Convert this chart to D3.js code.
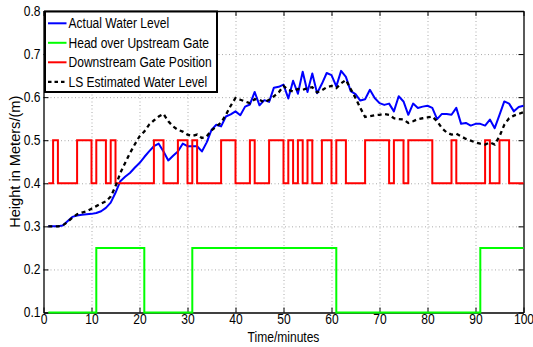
<!DOCTYPE html>
<html><head><meta charset="utf-8">
<script src="https://cdn.jsdelivr.net/npm/d3@7"></script>
<style>
html,body{margin:0;padding:0;background:#fff;}
svg{display:block;}
text{font-family:"Liberation Sans",Arial,Helvetica,sans-serif;fill:#000;}
</style></head>
<body>
<svg id="chart" width="533" height="347"></svg>
<script>
// ---- data ----
const timeMinutes = d3.range(1, 101);
const actualWaterLevel = [
0.300,0.300,0.300,0.302,0.312,0.322,0.325,0.327,0.328,0.329,
0.331,0.335,0.343,0.355,0.378,0.405,0.415,0.424,0.436,0.447,
0.461,0.474,0.486,0.492,0.474,0.453,0.464,0.474,0.492,0.486,
0.486,0.486,0.474,0.495,0.524,0.536,0.532,0.555,0.560,0.567,
0.558,0.578,0.583,0.612,0.581,0.593,0.589,0.622,0.624,0.629,
0.597,0.638,0.608,0.659,0.612,0.655,0.609,0.631,0.656,0.651,
0.625,0.661,0.647,0.614,0.607,0.592,0.595,0.617,0.598,0.586,
0.582,0.585,0.567,0.602,0.590,0.559,0.585,0.575,0.578,0.580,
0.575,0.549,0.561,0.561,0.559,0.575,0.538,0.540,0.534,0.538,
0.538,0.534,0.548,0.528,0.559,0.590,0.585,0.567,0.577,0.580];
const lsEstimatedLevel = [
0.300,0.300,0.300,0.302,0.310,0.320,0.328,0.332,0.335,0.341,
0.347,0.353,0.358,0.369,0.393,0.424,0.447,0.470,0.490,0.509,
0.520,0.536,0.546,0.555,0.561,0.544,0.532,0.524,0.520,0.513,
0.510,0.513,0.505,0.509,0.523,0.532,0.541,0.559,0.580,0.598,
0.594,0.590,0.586,0.595,0.594,0.588,0.594,0.602,0.611,0.626,
0.617,0.613,0.619,0.617,0.621,0.623,0.611,0.616,0.623,0.626,
0.621,0.632,0.640,0.619,0.598,0.575,0.554,0.556,0.558,0.559,
0.561,0.559,0.551,0.549,0.548,0.540,0.544,0.549,0.551,0.553,
0.555,0.544,0.528,0.518,0.513,0.515,0.509,0.503,0.499,0.495,
0.492,0.490,0.495,0.490,0.509,0.536,0.551,0.557,0.561,0.565];
const upstreamTimes  = [1, 11, 21, 31, 61, 91, 100];
const upstreamHead   = [0.1, 0.25, 0.1, 0.25, 0.1, 0.25, 0.25];
const downstreamTimes = [1,2,3,7,10,11,13,14,15,23,25,28,30,31,32,37,40,43,44,47,50,51,52,53,54,55,56,58,60,61,63,67,72,73,75,76,81,85,86,92,93,95,97,100];
const downstreamGate  = [0.4,0.5,0.4,0.5,0.4,0.5,0.4,0.5,0.4,0.5,0.4,0.5,0.4,0.5,0.4,0.5,0.4,0.5,0.4,0.5,0.4,0.5,0.4,0.5,0.4,0.5,0.4,0.5,0.4,0.5,0.4,0.5,0.4,0.5,0.4,0.5,0.4,0.5,0.4,0.5,0.4,0.5,0.4,0.4];
const xTicks = [0,10,20,30,40,50,60,70,80,90,100];
const yTicks = [0.1,0.2,0.3,0.4,0.5,0.6,0.7,0.8];
const legendLabels = ["Actual Water Level","Head over Upstream Gate","Downstream Gate Position","LS Estimated Water Level"];
const seriesColors = ["#0000ff","#00ff00","#ff0000","#000000"];

// ---- layout ----
const L = 43.5, R = 523.5, T = 11, B = 312.5;
const W = R - L, H = B - T;
const SQ = 0.86; // horizontal text squeeze of the reference
const svg = d3.select("#chart");
const x = d3.scaleLinear().domain([0,100]).range([L,R]);
const y = d3.scaleLinear().domain([0.1,0.8]).range([B,T]);

function squeeze(sel){
  sel.each(function(){
    const w = this.getComputedTextLength();
    d3.select(this).attr("textLength", w*SQ).attr("lengthAdjust","spacingAndGlyphs");
  });
}

// grid
svg.append("g").attr("transform",`translate(0,${B})`)
  .call(d3.axisBottom(x).tickValues(xTicks.slice(1,-1)).tickSize(-H).tickFormat(""))
  .call(g=>{g.select(".domain").remove(); g.selectAll("line").attr("stroke","#aaa").attr("stroke-dasharray","1,2.5");});
svg.append("g").attr("transform",`translate(${L},0)`)
  .call(d3.axisLeft(y).tickValues(yTicks.slice(1,-1)).tickSize(-W).tickFormat(""))
  .call(g=>{g.select(".domain").remove(); g.selectAll("line").attr("stroke","#aaa").attr("stroke-dasharray","1,2.5");});

// axes
const fmtY = d3.format(".1f");
const ax = svg.append("g").attr("transform",`translate(0,${B})`)
  .call(d3.axisBottom(x).tickValues(xTicks).tickSize(-5).tickSizeOuter(0).tickPadding(4).tickFormat(d3.format("d")));
const ay = svg.append("g").attr("transform",`translate(${L},0)`)
  .call(d3.axisLeft(y).tickValues(yTicks).tickSize(-5).tickSizeOuter(0).tickPadding(3).tickFormat(fmtY));
const at = svg.append("g").attr("transform",`translate(0,${T})`)
  .call(d3.axisTop(x).tickValues(xTicks).tickSize(-5).tickSizeOuter(0).tickFormat(""));
const ar = svg.append("g").attr("transform",`translate(${R},0)`)
  .call(d3.axisRight(y).tickValues(yTicks).tickSize(-5).tickSizeOuter(0).tickFormat(""));
[ax,ay,at,ar].forEach(g=>{
  g.select(".domain").attr("stroke","#000").attr("stroke-width",1.3);
  g.selectAll(".tick line").attr("stroke","#000").attr("stroke-width",1);
  g.selectAll("text").style("font-size","14px").attr("fill","#000");
});
ax.selectAll(".tick text").attr("dy","0.55em");
squeeze(ax.selectAll(".tick text"));
squeeze(ay.selectAll(".tick text"));

// series
const pts = (xs, ys) => xs.map((t,i)=>[t, ys[i]]);
const line = d3.line().x(d=>x(d[0])).y(d=>y(d[1]));
const step = d3.line().x(d=>x(d[0])).y(d=>y(d[1])).curve(d3.curveStepAfter);
svg.append("path").datum(pts(timeMinutes, actualWaterLevel)).attr("d", line)
  .attr("fill","none").attr("stroke",seriesColors[0]).attr("stroke-width",2).attr("stroke-linejoin","round");
svg.append("path").datum(pts(upstreamTimes, upstreamHead)).attr("d", step)
  .attr("fill","none").attr("stroke",seriesColors[1]).attr("stroke-width",2);
svg.append("path").datum(pts(downstreamTimes, downstreamGate)).attr("d", step)
  .attr("fill","none").attr("stroke",seriesColors[2]).attr("stroke-width",2);
svg.append("path").datum(pts(timeMinutes, lsEstimatedLevel)).attr("d", line)
  .attr("fill","none").attr("stroke",seriesColors[3]).attr("stroke-width",2.3).attr("stroke-dasharray","4,3.5");

// axis titles
squeeze(svg.append("text").attr("x",(L+R)/2).attr("y",342).attr("text-anchor","middle")
  .style("font-size","14px").text("Time/minutes"));
svg.append("text").attr("transform",`translate(15,${(T+B)/2}) rotate(-90)`)
  .attr("text-anchor","middle").attr("dominant-baseline","central")
  .style("font-size","14.6px").text("Height in Meters/(m)");

// legend
const lg = svg.append("g");
lg.append("rect").attr("x",45).attr("y",11.5).attr("width",172).attr("height",80.5)
  .attr("fill","#fff").attr("stroke","#000").attr("stroke-width",2);
legendLabels.forEach((lab,i)=>{
  const yy = 23.3 + i*19.5;
  lg.append("line").attr("x1",48).attr("x2",66.5).attr("y1",yy).attr("y2",yy)
    .attr("stroke",seriesColors[i]).attr("stroke-width", i===3?2.3:2)
    .attr("stroke-dasharray", i===3?"3.5,3":null);
  squeeze(lg.append("text").attr("x",68.5).attr("y",yy).attr("dominant-baseline","central")
    .style("font-size","14px").text(lab));
});
</script>
</body></html>
